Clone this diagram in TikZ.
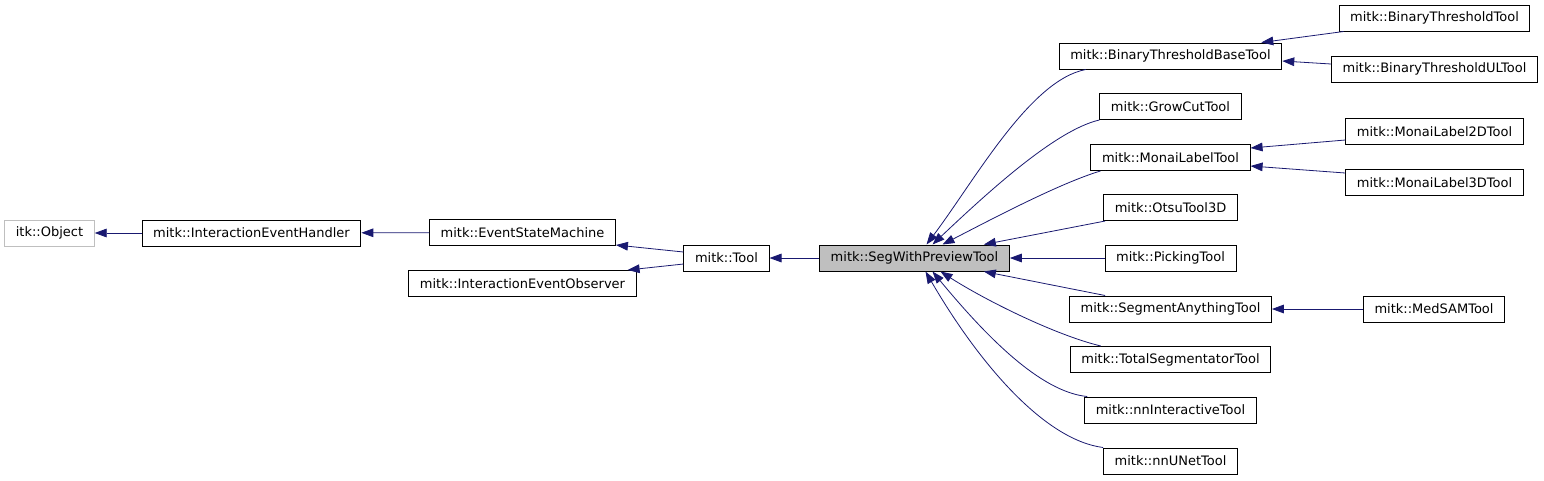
\documentclass[tikz,border=0pt]{standalone}
\usepackage{fontspec}
\setmainfont{DejaVu Sans}
\usetikzlibrary{arrows.meta,calc}
\definecolor{edgeblue}{RGB}{25,25,112}
\definecolor{boxgray}{RGB}{191,191,191}

\begin{document}
\begin{tikzpicture}[x=0.75pt, y=-0.75pt,
        every node/.style={font=\fontsize{9.75}{11}\selectfont},
        cls/.style={rectangle, draw=black, line width=0.75pt, inner xsep=8.3pt, inner ysep=0pt, minimum height=19.5pt},
        extcls/.style={cls, draw=boxgray},
        curcls/.style={cls, fill=boxgray},
        inh/.style={draw=edgeblue, line width=0.6pt, -{Triangle[length=9pt,width=6.5pt]}}]
    \useasboundingbox (0,0) rectangle (1544,480);

    \node[extcls] (obj) at (49.5,233) {itk::Object};
    \node[cls] (handler) at (251.5,233) {mitk::InteractionEventHandler};
    \node[cls] (esm) at (522.5,232.5) {mitk::EventStateMachine};
    \node[cls] (observer) at (522.5,283.5) {mitk::InteractionEventObserver};
    \node[cls] (tool) at (726.5,258) {mitk::Tool};
    \node[curcls] (seg) at (914.5,258) {mitk::SegWithPreviewTool};

    \node[cls] (btbase) at (1170.5,56) {mitk::BinaryThresholdBaseTool};
    \node[cls] (growcut) at (1170.5,106.5) {mitk::GrowCutTool};
    \node[cls] (monai) at (1170.5,157.5) {mitk::MonaiLabelTool};
    \node[cls] (otsu) at (1170.5,207.5) {mitk::OtsuTool3D};
    \node[cls] (picking) at (1170.5,258) {mitk::PickingTool};
    \node[cls] (sam) at (1170.5,309) {mitk::SegmentAnythingTool};
    \node[cls] (total) at (1170.5,359.5) {mitk::TotalSegmentatorTool};
    \node[cls] (nnint) at (1170.5,410) {mitk::nnInteractiveTool};
    \node[cls] (nnunet) at (1170.5,461) {mitk::nnUNetTool};

    \node[cls] (btt) at (1434.5,18) {mitk::BinaryThresholdTool};
    \node[cls] (btul) at (1434.5,69) {mitk::BinaryThresholdULTool};
    \node[cls] (monaitwo) at (1434.5,131.5) {mitk::MonaiLabel2DTool};
    \node[cls] (monaithree) at (1434.5,182.5) {mitk::MonaiLabel3DTool};
    \node[cls] (medsam) at (1434,309) {mitk::MedSAMTool};

    \draw[inh] (handler) -- (obj);
    \draw[inh] (esm) -- (handler);
    \draw[inh] ($(tool.west)+(0,-6)$) -- ($(esm.south east)+(0,-1)$);
    \draw[inh] ($(tool.west)+(0,6)$) -- ($(observer.north east)+(-9,0)$);
    \draw[inh] (seg) -- (tool);

    \draw[inh] ($(btbase.south west)+(27,0)$) .. controls (1030,80) and (975,180) .. ($(seg.north)+(12,0)$);
    \draw[inh] (growcut.south west) .. controls (1055,130) and (985,195) .. ($(seg.north)+(18,0)$);
    \draw[inh] ($(monai.south west)+(10,0)$) .. controls (1060,183) and (990,220) .. ($(seg.north)+(28,0)$);
    \draw[inh] ($(otsu.south west)+(2,0)$) -- ($(seg.north east)+(-26,0)$);
    \draw[inh] (picking) -- (seg);
    \draw[inh] ($(sam.north west)+(36,0)$) -- ($(seg.south east)+(-26,0)$);
    \draw[inh] ($(total.north west)+(31,0)$) .. controls (1055,335) and (985,300) .. ($(seg.south)+(26,0)$);
    \draw[inh] ($(nnint.north west)+(3,0)$) .. controls (1040,392) and (985,335) .. ($(seg.south)+(18,0)$);
    \draw[inh] (nnunet.north west) .. controls (1045,440) and (980,365) .. ($(seg.south)+(11,0)$);

    \draw[inh] ($(btt.south west)+(5,0)$) -- ($(btbase.north east)+(-21,0)$);
    \draw[inh] ($(btul.west)+(0,-5)$) -- ($(btbase.east)+(0,5)$);
    \draw[inh] ($(monaitwo.west)+(0,8.5)$) -- ($(monai.east)+(0,-9.5)$);
    \draw[inh] ($(monaithree.west)+(0,-9.5)$) -- ($(monai.east)+(0,8.5)$);
    \draw[inh] (medsam) -- (sam);
\end{tikzpicture}
\end{document}
